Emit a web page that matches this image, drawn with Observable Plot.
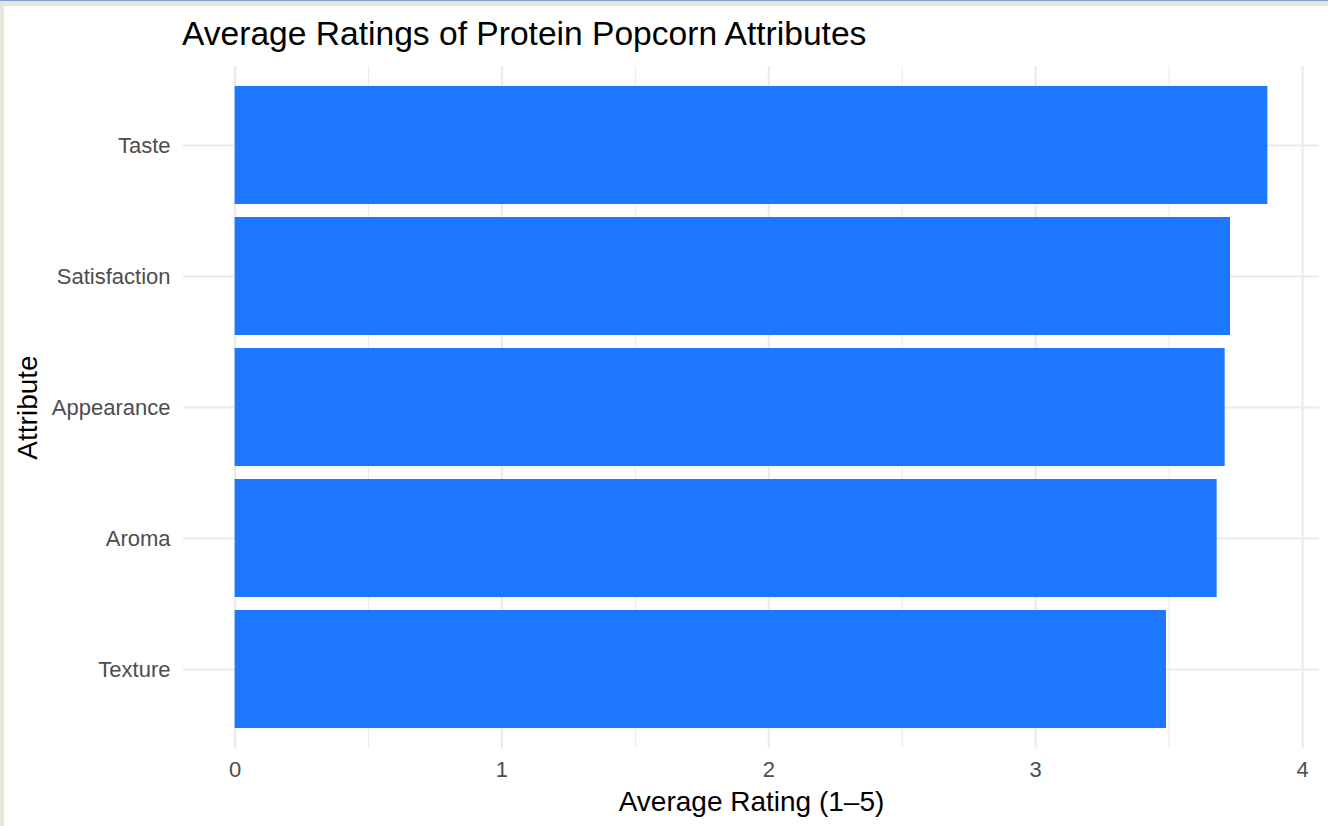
<!DOCTYPE html>
<html><head><meta charset="utf-8">
<script src="https://cdn.jsdelivr.net/npm/d3@7"></script>
<script src="https://cdn.jsdelivr.net/npm/@observablehq/plot@0.6"></script>
<style>
html,body{margin:0;padding:0;width:1328px;height:826px;overflow:hidden;background:#e4e7d9;font-family:"Liberation Sans",Arial,sans-serif;}
#topline{position:absolute;left:0;top:0;width:1328px;height:1px;background:#7f9fd0;}
#panel{position:absolute;left:4px;top:6px;width:1324px;height:820px;background:#fff;}
#title{position:absolute;left:178px;top:11px;font-size:33.6px;line-height:1;color:#000;white-space:nowrap;}
#chart{position:absolute;left:0;top:0;}
</style></head>
<body>
<div id="topline"></div>
<div id="panel"><div id="title">Average Ratings of Protein Popcorn Attributes</div><div id="chart"></div></div>
<script>
const attributes = ["Taste", "Satisfaction", "Appearance", "Aroma", "Texture"];
const ratings = [3.87, 3.73, 3.71, 3.68, 3.49];
const majorTicks = [0, 1, 2, 3, 4];
const minorTicks = [0.5, 1.5, 2.5, 3.5];
const xTitle = "Average Rating (1–5)";
const yTitle = "Attribute";

const data = attributes.map((a, i) => ({attribute: a, rating: ratings[i]}));
const xmax = d3.max(ratings);
const grid = "#ebebeb";

const chart = Plot.plot({
  width: 1324, height: 820,
  marginLeft: 179, marginRight: 9, marginTop: 60, marginBottom: 78,
  style: {background: "transparent", fontFamily: '"Liberation Sans", Arial, sans-serif', color: "#4d4d4d", overflow: "visible"},
  x: {domain: [-0.05 * xmax, 1.05 * xmax]},
  y: {domain: attributes, paddingInner: 0.1, paddingOuter: 0.15},
  marks: [
    Plot.gridX(minorTicks, {stroke: grid, strokeOpacity: 1, strokeWidth: 1.1}),
    Plot.gridX(majorTicks, {stroke: grid, strokeOpacity: 1, strokeWidth: 2.2}),
    Plot.gridY({stroke: grid, strokeOpacity: 1, strokeWidth: 2.2}),
    Plot.barX(data, {x: "rating", y: "attribute", fill: "#1e78ff"}),
    Plot.axisX(majorTicks, {tickSize: 0, tickPadding: 13, fontSize: 22, tickFormat: d3.format("d"), label: null}),
    Plot.axisY({tickSize: 0, tickPadding: 13, fontSize: 22, label: null}),
    Plot.text([xTitle], {text: d => d, frameAnchor: "bottom", lineAnchor: "middle", dy: 53.5, fontSize: 28, fill: "#000"}),
    Plot.text([yTitle], {text: d => d, frameAnchor: "left", textAnchor: "middle", rotate: -90, lineAnchor: "middle", dx: -155, fontSize: 28, fill: "#000"})
  ]
});
document.getElementById("chart").appendChild(chart);
</script>
</body></html>
